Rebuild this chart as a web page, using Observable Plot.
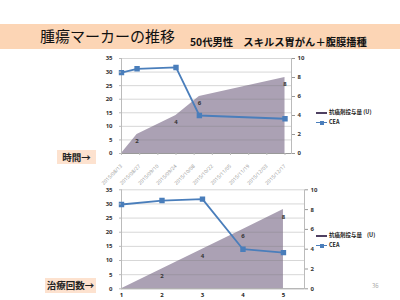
<!DOCTYPE html>
<html><head><meta charset="utf-8">
<script src="https://cdn.jsdelivr.net/npm/d3@7"></script>
<script src="https://cdn.jsdelivr.net/npm/@observablehq/plot@0.6"></script>
<style>
body{margin:0;width:400px;height:300px;position:relative;background:#fff;overflow:hidden;font-family:"Noto Sans CJK JP","Noto Sans",sans-serif;}
.abs{position:absolute;}
#band{left:0;top:24px;width:400px;height:25px;background:#fcd5b5;}
#title{left:40px;top:26px;font-size:15px;line-height:20px;color:#111;white-space:nowrap;}
#sub{left:190px;top:35px;font-size:10.3px;line-height:13px;font-weight:bold;color:#111;white-space:nowrap;}
.side{background:#fde2cf;font-weight:bold;font-size:9.5px;line-height:14px;color:#222;text-align:center;}
.leg{font-size:5.5px;line-height:7px;font-weight:bold;color:#222;white-space:nowrap;}
.sym{position:absolute;height:0;}
</style></head>
<body>
<div id="band" class="abs"></div>
<div id="title" class="abs">腫瘍マーカーの推移</div>
<div id="sub" class="abs">50代男性　スキルス胃がん＋腹膜播種</div>
<div id="c1" class="abs" style="left:0;top:50px"></div>
<div id="c2" class="abs" style="left:0;top:180px"></div>
<div class="abs side" style="left:57px;top:150px;width:39px;height:14px">時間→</div>
<div class="abs side" style="left:45px;top:278px;width:51px;height:15px">治療回数→</div>
<div id="leg1" class="abs" style="left:316px;top:109px"></div>
<div id="leg2" class="abs" style="left:316px;top:232px"></div>
<div class="abs" style="left:372px;top:281px;font-size:6px;color:#aaa">36</div>
<script>
// ---- data ----
const tickDates = ["2015/08/13","2015/08/27","2015/09/10","2015/09/24","2015/10/08","2015/10/22","2015/11/05","2015/11/19","2015/12/03","2015/12/17"];
const visitDates = ["2015/08/13","2015/08/25","2015/09/24","2015/10/12","2015/12/17"];
const sessions = [1, 2, 3, 4, 5];
const cea = [29.8, 31.2, 31.7, 14.0, 12.8];
const treatCount = [0, 2, 4, 6, 8];
const leftTicks = [0, 5, 10, 15, 20, 25, 30, 35];
const rightTicks = [0, 2, 4, 6, 8, 10];
const legendLabels = ["抗癌剤投与量 (U)", "CEA"];

const parse = d3.timeParse("%Y/%m/%d");
const fmt = d3.timeFormat("%Y/%m/%d");
const ratio = 35 / 10; // right axis 0-10 maps onto left axis 0-35
const rows = visitDates.map((d, i) => ({date: parse(d), s: sessions[i], cea: cea[i], n: treatCount[i]}));
const labelRows = rows.filter(r => r.n > 0);

const AREA = "#aba1b4", LINE = "#4a7ebb", GRID = "#7a7a7a";

function marks(xKey) {
  return [
    Plot.areaY(rows, {x: xKey, y: d => d.n * ratio, fill: AREA}),
    Plot.ruleY(leftTicks.slice(1), {stroke: GRID, strokeOpacity: 0.3, strokeWidth: 1}),
    Plot.ruleY([0], {stroke: "#999", strokeWidth: 1}),
    Plot.frame({anchor: "left", stroke: "#bbb"}),
    Plot.frame({anchor: "right", stroke: "#bbb"}),
    Plot.text(labelRows, {x: xKey, y: d => d.n * ratio, text: d => String(d.n), dy: 7, fontSize: 6, fontWeight: "bold", fill: "#333"}),
    Plot.line(rows, {x: xKey, y: "cea", stroke: LINE, strokeWidth: 1.8}),
    Plot.dot(rows, {x: xKey, y: "cea", symbol: "square", r: 2.2, fill: LINE, stroke: LINE}),
    Plot.axisY({ticks: leftTicks, anchor: "left", tickSize: 2, fontSize: 6, fontWeight: "bold", fill: "#333", stroke: "#bbb", label: null}),
    Plot.axisY({ticks: rightTicks.map(v => v * ratio), tickFormat: v => String(Math.round(v / ratio)), anchor: "right", tickSize: 3, tickPadding: 3, fontSize: 6, fontWeight: "bold", fill: "#333", stroke: "#999", label: null})
  ];
}

const chart1 = Plot.plot({
  width: 400, height: 135,
  marginLeft: 121, marginRight: 109, marginTop: 8, marginBottom: 32,
  style: {fontFamily: "Noto Sans, sans-serif", background: "transparent"},
  x: {type: "time", domain: [parse(tickDates[0]), parse("2015/12/22")]},
  y: {domain: [0, 35]},
  marks: [
    ...marks("date"),
    Plot.axisX({ticks: tickDates.map(parse), tickFormat: fmt, tickRotate: -45, tickSize: 2, fontSize: 5, fill: "#999", stroke: "#bbb", label: null})
  ]
});
document.getElementById("c1").append(chart1);

const chart2 = Plot.plot({
  width: 400, height: 120,
  marginLeft: 121, marginRight: 96, marginTop: 9.3, marginBottom: 11.7,
  style: {fontFamily: "Noto Sans, sans-serif", background: "transparent"},
  x: {type: "linear", domain: [1, 5.52]},
  y: {domain: [0, 35]},
  marks: [
    ...marks("s"),
    Plot.axisX({ticks: sessions, tickFormat: d => String(d), tickSize: 0, tickPadding: 4, fontSize: 6, fontWeight: "bold", fill: "#222", label: null})
  ]
});
document.getElementById("c2").append(chart2);

function legend(el, gap) {
  const box = document.getElementById(el);
  box.innerHTML =
    `<div style="position:relative;height:9px;width:80px">
       <div class="sym" style="left:0;top:3px;width:11px;border-top:2px solid #4e4061"></div>
       <div class="leg" style="position:absolute;left:13px;top:0">${legendLabels[0].replace(" ", gap)}</div>
     </div>
     <div style="position:relative;height:9px;width:80px">
       <div class="sym" style="left:0;top:4px;width:11px;border-top:1.5px solid ${LINE}"></div>
       <div class="sym" style="left:4px;top:2.5px;width:4px;height:4px;background:${LINE}"></div>
       <div class="leg" style="position:absolute;left:13px;top:1px">${legendLabels[1]}</div>
     </div>`;
}
legend("leg1", " ");
legend("leg2", "&nbsp;&nbsp;&nbsp;&nbsp;");
</script>
</body></html>
